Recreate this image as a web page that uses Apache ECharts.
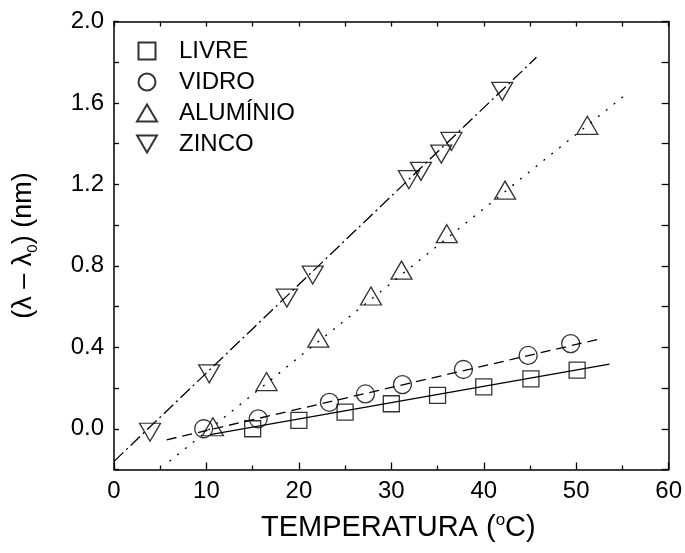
<!DOCTYPE html>
<html>
<head>
<meta charset="utf-8">
<script src="https://cdn.jsdelivr.net/npm/echarts@6/dist/echarts.min.js"></script>
<style>html,body{margin:0;padding:0;background:#fff}#c{width:685px;height:553px}</style>
</head>
<body>
<div id="c"></div>
<script>
// Data
const livre = [[15.0, 0.000], [20.0, 0.041], [25.0, 0.082], [30.0, 0.123], [35.0, 0.164], [40.0, 0.206], [45.1, 0.245], [50.1, 0.288]];
const vidro = [[9.7, 0.000], [15.6, 0.049], [23.3, 0.130], [27.2, 0.171], [31.2, 0.217], [37.8, 0.291], [44.8, 0.360], [49.4, 0.418]];
const aluminio = [[10.7, 0.010], [16.5, 0.232], [22.1, 0.445], [27.8, 0.652], [31.1, 0.779], [36.0, 0.958], [42.3, 1.172], [51.2, 1.490]];
const zinco = [[3.9, -0.017], [10.3, 0.270], [18.7, 0.642], [21.5, 0.755], [31.9, 1.223], [33.2, 1.264], [35.4, 1.349], [36.5, 1.411], [42.0, 1.657]];
// fitted line end points
const fitLivre = [[10.4, -0.029], [53.6, 0.318]];
const fitVidro = [[5.7, -0.054], [52.9, 0.445]];
const fitAluminio = [[6.0, -0.160], [55.2, 1.636]];
const fitZinco = [[0.0, -0.160], [45.7, 1.824]];
const seriesNames = ['LIVRE', 'VIDRO', 'ALUMÍNIO', 'ZINCO'];
const xTicks = {min: 0, max: 60, interval: 10};
const yTicks = {min: -0.2, max: 2.0, interval: 0.2};

const FONT = 'Liberation Sans, Arial, sans-serif';
const black = '#000';
const mk = {color: 'rgba(0,0,0,0)', borderColor: black, borderWidth: 1.3};

function scatter(name, data, symbol, size, rotate) {
  return {
    name: name, type: 'scatter', data: data, symbol: symbol, symbolSize: size,
    symbolRotate: rotate || 0, itemStyle: mk, z: 3, emphasis: {disabled: true}
  };
}
function fit(name, data, type) {
  return {
    name: name, type: 'line', data: data, symbol: 'none', showSymbol: false,
    lineStyle: {color: black, width: 1.3, type: type}, z: 2, animation: false
  };
}

const chart = echarts.init(document.getElementById('c'), null, {renderer: 'canvas'});
chart.setOption({
  animation: false,
  backgroundColor: '#fff',
  textStyle: {fontFamily: FONT, color: black},
  grid: {left: 110, right: 16, top: 21.5, bottom: 83.5},
  legend: {
    data: [
      {name: seriesNames[0], icon: 'path://M0,0H1V1H0Z'},
      {name: seriesNames[1]},
      {name: seriesNames[2]},
      {name: seriesNames[3], icon: 'path://M0,0H21L10.5,18Z'}
    ],
    orient: 'vertical', left: 131, top: 34, itemWidth: 20, itemHeight: 17, itemGap: 7,
    textStyle: {fontFamily: FONT, fontSize: 24, color: black, padding: [0, 0, 0, 17], lineHeight: 24},
    selectedMode: false
  },
  xAxis: [{
    type: 'value', position: 'bottom', min: xTicks.min, max: xTicks.max, interval: xTicks.interval,
    name: 'TEMPERATURA ({sup|o}C)', nameLocation: 'middle', nameGap: 42,
    nameTextStyle: {fontFamily: FONT, fontSize: 29, color: black, lineHeight: 32, padding: [0, 0, 0, 14],
      rich: {sup: {fontFamily: FONT, fontSize: 17, verticalAlign: 'top', lineHeight: 32, color: black}}},
    axisLine: {show: true, onZero: false, lineStyle: {color: black, width: 1.5}},
    axisTick: {show: true, inside: true, length: 7, lineStyle: {color: black, width: 1.3}},
    minorTick: {show: true, splitNumber: 2, length: 4, lineStyle: {color: black, width: 1.3}},
    axisLabel: {fontFamily: FONT, fontSize: 24, color: black, margin: 10},
    splitLine: {show: false}
  }, {
    type: 'value', position: 'top', min: xTicks.min, max: xTicks.max, interval: 5,
    axisLine: {show: true, onZero: false, lineStyle: {color: black, width: 1.5}},
    axisTick: {show: true, inside: true, length: 5, lineStyle: {color: black, width: 1.3}},
    axisLabel: {show: false}, splitLine: {show: false}
  }],
  yAxis: [{
    type: 'value', position: 'left', min: yTicks.min, max: yTicks.max, interval: yTicks.interval,
    name: '(λ – λ{sub|0}) (nm)', nameLocation: 'middle', nameGap: 74, nameRotate: 90,
    nameTextStyle: {fontFamily: FONT, fontSize: 27, color: black, lineHeight: 32,
      rich: {sub: {fontFamily: FONT, fontSize: 15, verticalAlign: 'bottom', lineHeight: 32, color: black}}},
    axisLine: {show: true, onZero: false, lineStyle: {color: black, width: 1.5}},
    axisTick: {show: true, inside: true, length: 5, lineStyle: {color: black, width: 1.3}},
    axisLabel: {fontFamily: FONT, fontSize: 24, color: black, margin: 10,
      formatter: function (v) {
        const k = Math.round(v * 10);
        return (k >= 0 && k % 4 === 0) ? v.toFixed(1) : '';
      }},
    splitLine: {show: false}
  }, {
    type: 'value', position: 'right', min: yTicks.min, max: yTicks.max, interval: yTicks.interval,
    axisLine: {show: true, onZero: false, lineStyle: {color: black, width: 1.5}},
    axisTick: {show: true, inside: true, length: 7, lineStyle: {color: black, width: 1.3}},
    axisLabel: {show: false}, splitLine: {show: false}
  }],
  series: [
    fit('LIVRE fit', fitLivre, 'solid'),
    fit('VIDRO fit', fitVidro, [10, 6]),
    fit('ALUMÍNIO fit', fitAluminio, [2, 8]),
    fit('ZINCO fit', fitZinco, [13, 4, 2, 4]),
    scatter(seriesNames[0], livre, 'rect', 16),
    scatter(seriesNames[1], vidro, 'circle', 18),
    scatter(seriesNames[2], aluminio, 'triangle', [21, 18]),
    scatter(seriesNames[3], zinco, 'triangle', [21, 18], 180)
  ]
});
</script>
</body>
</html>
